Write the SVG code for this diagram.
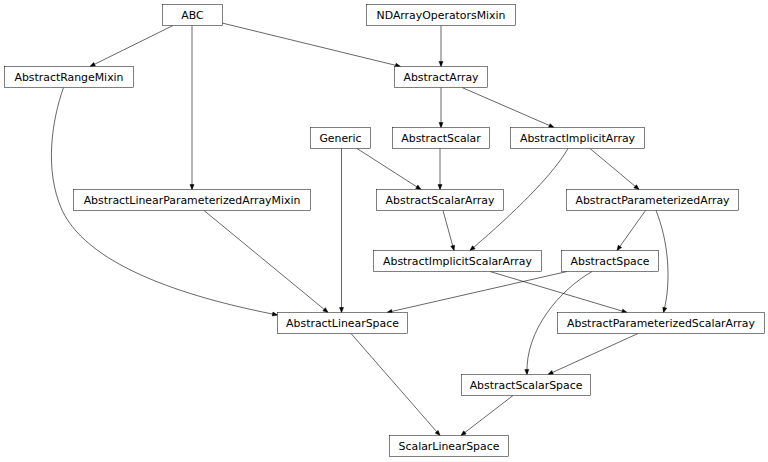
<svg xmlns="http://www.w3.org/2000/svg" width="768" height="462" viewBox="0 0 768 462">
<style>
rect{fill:#fff;stroke:#000;stroke-width:0.5}
text{font-family:"DejaVu Sans","Liberation Sans",sans-serif;font-size:10.9px;text-anchor:middle;fill:#000}
.e path{fill:none;stroke:#000;stroke-width:0.6;marker-end:url(#ah)}
</style>
<defs>
<marker id="ah" markerUnits="userSpaceOnUse" markerWidth="6" markerHeight="5" refX="5" refY="2" orient="auto" overflow="visible">
<path d="M0,0 L5,2 L0,4 z" fill="#000" stroke="#000" stroke-width="0.5"/>
</marker>
</defs>
<rect x="0" y="0" width="768" height="462" style="fill:#fff;stroke:none"/>
<g class="e" id="edges">
<path d="M173,25.5 L90,66.5"/>
<path d="M192,25.5 L192,189.5"/>
<path d="M222,23 L400.5,66.5"/>
<path d="M441,25.5 L441,66.5"/>
<path d="M441,87.5 L441,127.5"/>
<path d="M462,87.5 L554,127.5"/>
<path d="M63.5,87.5 C52,120 44,170 62,210 C90,270 200,300 277.5,315"/>
<path d="M341.5,148.5 L341.5,312.5"/>
<path d="M357,148.5 L421,189.5"/>
<path d="M440,148.5 L440,189.5"/>
<path d="M568,148.5 C550,180 500,225 470,250.5"/>
<path d="M590,148.5 L639,189.5"/>
<path d="M204,210.5 L328,312.5"/>
<path d="M443,210.5 L454,250.5"/>
<path d="M645.5,210.5 L617,250.5"/>
<path d="M656,210.5 C668,240 672,280 663.5,312.5"/>
<path d="M490,271.5 L627,312.5"/>
<path d="M567,271.5 L387,312.5"/>
<path d="M592,271.5 C560,290 525,330 527,374.5"/>
<path d="M638,333.5 L548,374.5"/>
<path d="M351,333.5 L440,435.5"/>
<path d="M513,395.5 L461,435.5"/>
</g>
<g id="n_ABC"><rect x="162.5" y="4.5" width="60" height="21"/><text x="192.5" y="18.5">ABC</text></g>
<g id="n_NDArrayOperatorsMixin"><rect x="366.5" y="4.5" width="149" height="21"/><text x="441" y="18.5">NDArrayOperatorsMixin</text></g>
<g id="n_AbstractRangeMixin"><rect x="4.5" y="66.5" width="129" height="21"/><text x="69" y="80.5">AbstractRangeMixin</text></g>
<g id="n_AbstractArray"><rect x="394.5" y="66.5" width="93" height="21"/><text x="441" y="80.5">AbstractArray</text></g>
<g id="n_Generic"><rect x="310.5" y="127.5" width="60" height="21"/><text x="340.5" y="141.5">Generic</text></g>
<g id="n_AbstractScalar"><rect x="392.5" y="127.5" width="97" height="21"/><text x="441" y="141.5">AbstractScalar</text></g>
<g id="n_AbstractImplicitArray"><rect x="510.5" y="127.5" width="134" height="21"/><text x="577.5" y="141.5">AbstractImplicitArray</text></g>
<g id="n_AbstractLinearParameterizedArrayMixin"><rect x="73.5" y="189.5" width="237" height="21"/><text x="192" y="203.5">AbstractLinearParameterizedArrayMixin</text></g>
<g id="n_AbstractScalarArray"><rect x="376.5" y="189.5" width="127" height="21"/><text x="440" y="203.5">AbstractScalarArray</text></g>
<g id="n_AbstractParameterizedArray"><rect x="566.5" y="189.5" width="172" height="21"/><text x="652.5" y="203.5">AbstractParameterizedArray</text></g>
<g id="n_AbstractImplicitScalarArray"><rect x="373.5" y="250.5" width="168" height="21"/><text x="457.5" y="264.5">AbstractImplicitScalarArray</text></g>
<g id="n_AbstractSpace"><rect x="561.5" y="250.5" width="97" height="21"/><text x="610" y="264.5">AbstractSpace</text></g>
<g id="n_AbstractLinearSpace"><rect x="277.5" y="312.5" width="130" height="21"/><text x="342.5" y="326.5">AbstractLinearSpace</text></g>
<g id="n_AbstractParameterizedScalarArray"><rect x="557.5" y="312.5" width="207" height="21"/><text x="661" y="326.5">AbstractParameterizedScalarArray</text></g>
<g id="n_AbstractScalarSpace"><rect x="461.5" y="374.5" width="129" height="21"/><text x="526" y="388.5">AbstractScalarSpace</text></g>
<g id="n_ScalarLinearSpace"><rect x="389.5" y="435.5" width="119" height="21"/><text x="449" y="449.5">ScalarLinearSpace</text></g>
</svg>
